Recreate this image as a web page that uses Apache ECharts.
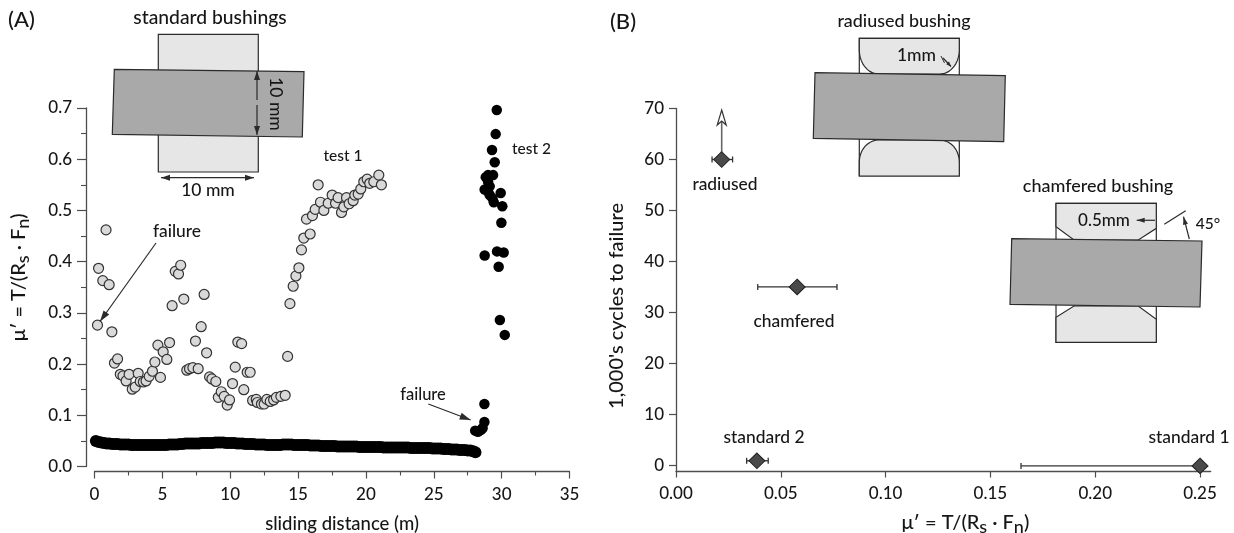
<!DOCTYPE html>
<html><head><meta charset="utf-8">
<style>html,body{margin:0;padding:0;background:#fff}#c{width:1234px;height:533px}</style>
<script src="https://cdn.jsdelivr.net/npm/echarts@6/dist/echarts.min.js"></script>
</head><body><div id="c"></div>
<script>
// Panel A: [sliding distance (m), mu']
const test1 = [[.22,.276],[.3,.387],[.61,.363],[.85,.462],[1.08,.355],[1.28,.263],[1.47,.202],[1.7,.21],[1.9,.18],[2.1,.177],[2.33,.167],[2.55,.18],[2.78,.151],[3.0,.155],[3.22,.182],[3.37,.166],[3.6,.165],[3.8,.167],[4.03,.176],[4.27,.186],[4.45,.204],[4.67,.237],[4.86,.174],[5.06,.224],[5.33,.209],[5.53,.242],[5.72,.314],[5.95,.381],[6.19,.376],[6.35,.393],[6.58,.327],[6.8,.188],[7.0,.191],[7.25,.193],[7.44,.245],[7.64,.191],[7.86,.273],[8.08,.336],[8.26,.222],[8.48,.175],[8.65,.171],[8.94,.166],[9.12,.135],[9.34,.146],[9.56,.137],[9.78,.12],[9.95,.13],[10.17,.162],[10.37,.194],[10.56,.243],[10.84,.24],[11.0,.15],[11.25,.184],[11.47,.184],[11.65,.129],[11.92,.131],[12.0,.125],[12.3,.122],[12.5,.122],[12.7,.131],[12.95,.127],[13.2,.13],[13.4,.135],[13.73,.137],[14.05,.139],[14.23,.215],[14.4,.318],[14.64,.352],[14.84,.372],[15.06,.388],[15.25,.423],[15.42,.446],[15.62,.483],[15.89,.454],[16.06,.49],[16.26,.502],[16.48,.55],[16.65,.516],[16.9,.5],[17.22,.514],[17.51,.53],[17.76,.514],[17.95,.525],[18.2,.496],[18.37,.507],[18.57,.525],[18.76,.513],[19.06,.519],[19.18,.53],[19.43,.532],[19.62,.542],[19.84,.556],[20.09,.561],[20.28,.553],[20.58,.556],[20.95,.569],[21.14,.55]];
const test2Steady = [[.1,.05],[.3,.048],[.5,.047],[.7,.046],[.9,.045],[1.1,.045],[1.3,.044],[1.5,.044],[1.7,.044],[1.9,.043],[2.1,.043],[2.3,.043],[2.5,.043],[2.7,.042],[2.9,.042],[3.1,.042],[3.3,.042],[3.5,.042],[3.7,.042],[3.9,.042],[4.1,.042],[4.3,.042],[4.5,.042],[4.7,.042],[4.9,.042],[5.1,.042],[5.3,.042],[5.5,.043],[5.7,.043],[5.9,.043],[6.1,.043],[6.3,.044],[6.5,.044],[6.7,.045],[6.9,.045],[7.1,.045],[7.3,.045],[7.5,.045],[7.7,.045],[7.9,.046],[8.1,.046],[8.3,.046],[8.5,.046],[8.7,.046],[8.9,.047],[9.1,.047],[9.3,.047],[9.5,.047],[9.7,.046],[9.9,.046],[10.1,.046],[10.3,.046],[10.5,.045],[10.7,.045],[10.9,.045],[11.1,.044],[11.3,.044],[11.5,.044],[11.7,.044],[11.9,.043],[12.1,.043],[12.3,.043],[12.5,.043],[12.7,.042],[12.9,.042],[13.1,.042],[13.3,.042],[13.5,.042],[13.7,.042],[13.9,.043],[14.1,.043],[14.3,.043],[14.5,.043],[14.7,.042],[14.9,.042],[15.1,.042],[15.3,.042],[15.5,.042],[15.7,.042],[15.9,.041],[16.1,.041],[16.3,.041],[16.5,.041],[16.7,.04],[16.9,.04],[17.1,.04],[17.3,.04],[17.5,.04],[17.7,.04],[17.9,.039],[18.1,.039],[18.3,.039],[18.5,.039],[18.7,.039],[18.9,.039],[19.1,.039],[19.3,.039],[19.5,.038],[19.7,.038],[19.9,.038],[20.1,.038],[20.3,.038],[20.5,.038],[20.7,.038],[20.9,.038],[21.1,.038],[21.3,.037],[21.5,.037],[21.7,.037],[21.9,.037],[22.1,.037],[22.3,.037],[22.5,.037],[22.7,.037],[22.9,.037],[23.1,.037],[23.3,.036],[23.5,.036],[23.7,.036],[23.9,.036],[24.1,.036],[24.3,.036],[24.5,.036],[24.7,.036],[24.9,.035],[25.1,.035],[25.3,.035],[25.5,.035],[25.7,.034],[25.9,.034],[26.1,.034],[26.3,.033],[26.5,.033],[26.7,.033],[26.9,.032],[27.1,.032],[27.3,.032],[27.5,.031],[27.7,.031],[27.9,.03],[28.07,.028]];
const test2Failure = [[28.05,.07],[28.25,.068],[28.37,.07],[28.5,.072],[28.6,.075],[28.73,.087],[28.73,.122],[28.75,.541],[28.83,.565],[29,.569],[29,.556],[29,.537],[29.12,.547],[29.12,.53],[29.29,.618],[29.32,.524],[29.37,.569],[29.42,.516],[29.49,.594],[29.56,.649],[29.64,.696],[29.93,.534],[30.05,.508],[29.98,.476],[28.75,.412],[29.66,.42],[30.15,.418],[29.78,.39],[29.87,.286],[30.23,.257]];
// Panel B
const bNames = ['radiused','chamfered','standard 2','standard 1'];
const bMu = [.0218,.0578,.0386,.25];
const bMuLow = [.0172,.039,.0337,.1646];
const bMuHigh = [.027,.0768,.044,.25];
const bCycles = [60,35,.9,-.1];
const radiusedArrowTop = 69.7;
const xTicksB = [0,.05,.1,.15,.2,.25];
const yTicksB = [0,10,20,30,40,50,60,70];

const FONT='Lato', WEIGHT=500, AX='#4d4d4d', TXT='#161616', INK='#2b2b2b', LIGHT='#e6e6e6', MID='#a9a9a9';
const chart = echarts.init(document.getElementById('c'),null,{renderer:'canvas'});
const muRich = {
  a:{fontFamily:FONT,fontWeight:WEIGHT,fontSize:20,color:TXT},
  s:{fontFamily:FONT,fontWeight:WEIGHT,fontSize:18,color:TXT,padding:[9,0,0,0]}
};
const muName='{a|μ′ = T/(R}{s|s}{a| · F}{s|n}{a|)}';
const tickFont={fontFamily:FONT,fontWeight:WEIGHT,fontSize:17,color:TXT};
function axisCommon(o){
  return Object.assign({
    axisLine:{show:true,onZero:false,lineStyle:{color:AX,width:1.3}},
    splitLine:{show:false},
    nameLocation:'middle'
  },o);
}
function tx(text,x,y,size,extra){
  return Object.assign({type:'text',x:x,y:y,z:20,silent:true,style:{text:text,fontFamily:FONT,fontWeight:WEIGHT,fontSize:size||16,fill:TXT,align:'center',verticalAlign:'middle'}},extra||{});
}
function line(x1,y1,x2,y2,w,col){return {type:'line',z:15,silent:true,shape:{x1,y1,x2,y2},style:{stroke:col||INK,lineWidth:w||1.2}};}
function head(x1,y1,x2,y2,len,wid){
  const a=Math.atan2(y2-y1,x2-x1),c=Math.cos(a),s=Math.sin(a);
  const bx=x2-len*c,by=y2-len*s;
  return {type:'polygon',z:16,silent:true,shape:{points:[[x2,y2],[bx-wid*s,by+wid*c],[bx+wid*s,by-wid*c]]},style:{fill:INK}};
}
function arrow(x1,y1,x2,y2,len,wid){return [line(x1,y1,x2,y2),head(x1,y1,x2,y2,len||9,wid||3)];}
function poly(pts,fill,z){return {type:'polygon',z:z||10,silent:true,shape:{points:pts},style:{fill:fill,stroke:INK,lineWidth:1.2}};}
function arc(cx,cy,rx,ry,a0,a1){
  const p=[];
  for(let i=0;i<=10;i++){const t=(a0+(a1-a0)*i/10)*Math.PI/180;p.push([cx+rx*Math.cos(t),cy+ry*Math.sin(t)]);}
  return p;
}
const graphics = [
  tx('(A)',21.5,20,22), tx('(B)',623,22,22),
  tx('standard bushings',210,18,19.3),
  poly([[158.3,34.3],[258.3,34.3],[258.3,172],[158.3,172]],LIGHT,10),
  poly([[114.3,69.3],[304,71.7],[302.3,137],[112.3,134.3]],MID,11),
  ...arrow(257,100,257,71,9,3), ...arrow(257,105,257,135,9,3),
  tx('10 mm',276,104,17.5,{rotation:-Math.PI/2}),
  ...arrow(208,177.7,161,177.7,9,3), ...arrow(208,177.7,254,177.7,9,3),
  tx('10 mm',208,190,17.5),
  tx('failure',177,231.5,17.4),
  ...arrow(156,243,100,321.5,11,3.5),
  tx('test 1',343,155.5,15.5), tx('test 2',531.5,149,15.5),
  tx('failure',423,395,16.5),
  ...arrow(428.3,404,470.7,420,11,3.5),
  // radiused bushing
  tx('radiused bushing',904,21,17.9),
  {type:'rect',z:9,silent:true,shape:{x:859.3,y:38.3,width:100,height:137.7},style:{fill:'#fff',stroke:INK,lineWidth:1.2}},
  poly([[859.3,38.3],[959.3,38.3],[959.3,50],...arc(940,50,19.3,24,0,90),...arc(878.6,50,19.3,24,90,180)],LIGHT,10),
  poly([[859.3,176],[959.3,176],[959.3,162],...arc(940,162,19.3,22,0,-90),...arc(878.6,162,19.3,22,-90,-180)],LIGHT,10),
  poly([[815,72.7],[1005.3,75.7],[1003.7,141.7],[813.3,138.3]],MID,11),
  tx('1mm',916.5,55,17.5),
  line(941,56,944.5,63,1), ...arrow(943,58,951,66.5,5,2),
  // chamfered bushing
  tx('chamfered bushing',1098,186.5,18),
  {type:'rect',z:9,silent:true,shape:{x:1056,y:203.3,width:100.3,height:139},style:{fill:'#fff',stroke:INK,lineWidth:1.2}},
  poly([[1056,203.3],[1156.3,203.3],[1156.3,228.3],[1138.3,240],[1074,240],[1056,226.7]],LIGHT,10),
  poly([[1056,342.3],[1156.3,342.3],[1156.3,319.3],[1138.3,306],[1074,306],[1056,317.3]],LIGHT,10),
  poly([[1011.7,238.7],[1202,241],[1200,307],[1010,304.3]],MID,11),
  tx('0.5mm',1104,221,17),
  ...arrow(1155,220.3,1136.7,220.3,8,2.5),
  line(1164.3,224.3,1185.7,210.7),
  ...arrow(1189.3,239,1183.5,216.7,8,2.5),
  tx('45°',1208,224,15.5)
];
const labelsB = [[725,184],[794,321.5],[764,437.3],[1189,437.3]].map((p,i)=>tx(bNames[i],p[0],p[1],17.4));
chart.setOption({
  animation:false, backgroundColor:'#fff',
  textStyle:{fontFamily:FONT},
  grid:[
    {left:94.5,top:108,width:475,height:358.5,outerBoundsMode:'none'},
    {left:676,top:108.5,width:534.7,height:363,outerBoundsMode:'none'}
  ],
  xAxis:[
    axisCommon({gridIndex:0,type:'value',min:0,max:35,interval:5,offset:5,
      axisTick:{show:true,length:7,lineStyle:{color:AX,width:1.2}},
      minorTick:{show:true,splitNumber:2,length:4,lineStyle:{color:AX,width:1.1}},
      axisLabel:Object.assign({margin:15},tickFont),
      name:'sliding distance (m)',nameGap:43,nameTextStyle:{fontFamily:FONT,fontWeight:WEIGHT,fontSize:18.5,color:TXT,padding:[0,0,0,20]}}),
    axisCommon({gridIndex:1,type:'value',min:0,max:.2551,
      axisTick:{show:true,length:6,customValues:xTicksB,lineStyle:{color:AX,width:1.2}},
      axisLabel:Object.assign({margin:14,customValues:xTicksB,formatter:v=>v.toFixed(2)},tickFont),
      name:muName,nameGap:38,nameTextStyle:{rich:muRich,padding:[0,0,0,44]}})
  ],
  yAxis:[
    axisCommon({gridIndex:0,type:'value',min:0,max:.7,interval:.1,offset:8.5,
      axisTick:{show:true,length:9,lineStyle:{color:AX,width:1.2}},
      minorTick:{show:true,splitNumber:2,length:5,lineStyle:{color:AX,width:1.1}},
      axisLabel:Object.assign({margin:14,formatter:v=>v.toFixed(1)},tickFont),
      name:muName,nameGap:54,nameRotate:90,nameTextStyle:{rich:muRich,padding:[0,0,0,20]}}),
    axisCommon({gridIndex:1,type:'value',min:-1.2,max:70,
      axisTick:{show:true,length:7,customValues:yTicksB,lineStyle:{color:AX,width:1.2}},
      axisLabel:Object.assign({margin:12,customValues:yTicksB},tickFont),
      name:"1,000's cycles to failure",nameGap:49,nameRotate:90,nameTextStyle:{fontFamily:FONT,fontWeight:WEIGHT,fontSize:20,color:TXT,padding:[0,32,0,0]}})
  ],
  series:[
    {name:'test 2 steady',type:'scatter',xAxisIndex:0,yAxisIndex:0,symbolSize:12,z:3,
      data:test2Steady,itemStyle:{color:'#000',opacity:1}},
    {name:'test 2',type:'scatter',xAxisIndex:0,yAxisIndex:0,symbolSize:10.5,z:3,
      data:test2Failure,itemStyle:{color:'#000',opacity:1}},
    {name:'test 1',type:'scatter',xAxisIndex:0,yAxisIndex:0,symbolSize:10,z:4,
      data:test1,itemStyle:{color:'#d9d9d9',borderColor:'#333',borderWidth:1.2,opacity:1}},
    {name:'error',type:'custom',xAxisIndex:1,yAxisIndex:1,z:3,
      data:bMu.map((m,i)=>[bMuLow[i],bMuHigh[i],bCycles[i],i]),
      encode:{x:[0,1],y:2},
      renderItem:(p,api)=>{
        const a=api.coord([api.value(0),api.value(2)]),b=api.coord([api.value(1),api.value(2)]);
        const st={stroke:'#333',lineWidth:1.3,fill:null};
        const kids=[
          {type:'line',shape:{x1:a[0],y1:a[1],x2:b[0],y2:b[1]},style:st},
          {type:'line',shape:{x1:a[0],y1:a[1]-3,x2:a[0],y2:a[1]+3},style:st},
          {type:'line',shape:{x1:b[0],y1:b[1]-3,x2:b[0],y2:b[1]+3},style:st}
        ];
        return {type:'group',children:kids};
      }},
    {name:'run-out',type:'custom',xAxisIndex:1,yAxisIndex:1,z:3,
      data:[[bMu[0],bCycles[0],radiusedArrowTop]],encode:{x:0,y:[1,2]},
      renderItem:(p,api)=>{
        const a=api.coord([api.value(0),api.value(1)]),b=api.coord([api.value(0),api.value(2)]);
        return {type:'group',children:[
          {type:'line',shape:{x1:a[0],y1:a[1],x2:a[0],y2:b[1]+8},style:{stroke:'#666',lineWidth:1.6}},
          {type:'polygon',shape:{points:[[a[0],b[1]],[a[0]+4.5,b[1]+15],[a[0],b[1]+11],[a[0]-4.5,b[1]+15]]},style:{fill:'#fff',stroke:'#333',lineWidth:1.2}}
        ]};
      }},
    {name:'cycles',type:'scatter',xAxisIndex:1,yAxisIndex:1,symbol:'diamond',symbolSize:[16,15.5],z:5,
      data:bMu.map((m,i)=>[m,bCycles[i]]),itemStyle:{color:'#4a4a4a',borderColor:'#222',borderWidth:1,opacity:1}}
  ],
  graphic:{elements:graphics.concat(labelsB)}
});
</script></body></html>
